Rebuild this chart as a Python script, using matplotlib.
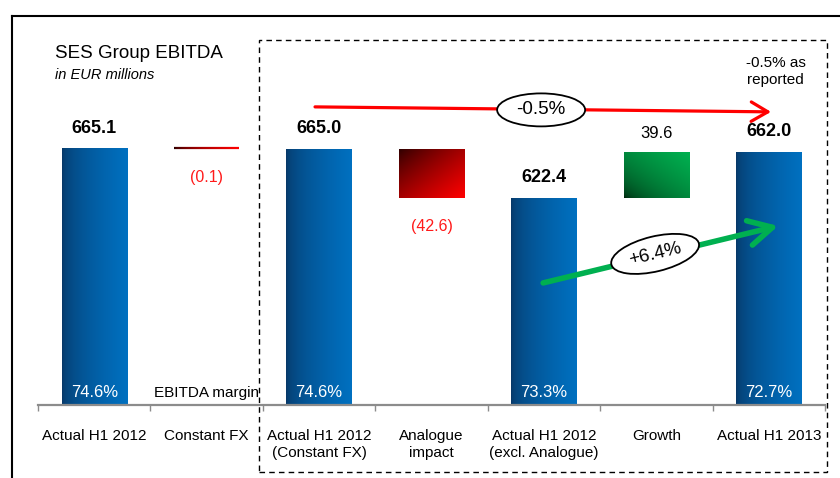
import numpy as np
import matplotlib
matplotlib.use('Agg')
import matplotlib.pyplot as plt
from matplotlib.patches import Ellipse, Rectangle, FancyArrowPatch, ArrowStyle
from matplotlib.lines import Line2D
from matplotlib.collections import LineCollection
from matplotlib.colors import to_rgb
import matplotlib.transforms as mtransforms

plt.rcParams['font.family'] = ['Liberation Sans', 'DejaVu Sans']

# ---------------- data ----------------
categories = ['Actual H1 2012', 'Constant FX', 'Actual H1 2012\n(Constant FX)',
              'Analogue\nimpact', 'Actual H1 2012\n(excl. Analogue)', 'Growth',
              'Actual H1 2013']
values = [665.1, -0.1, 665.0, -42.6, 622.4, 39.6, 662.0]
kinds = ['total', 'delta', 'total', 'delta', 'total', 'delta', 'total']
value_labels = ['665.1', '(0.1)', '665.0', '(42.6)', '622.4', '39.6', '662.0']
margin_labels = ['74.6%', 'EBITDA margin', '74.6%', '', '73.3%', '', '72.7%']
change_constant_fx = '-0.5%'
change_excl_analogue = '+6.4%'
reported_note = '-0.5% as\nreported'
title = 'SES Group EBITDA'
subtitle = 'in EUR millions'

# ---------------- figure ----------------
W, H, DPI = 840, 478, 100
fig = plt.figure(figsize=(W / DPI, H / DPI), dpi=DPI)
ax = fig.add_axes([38 / W, 1 - 405 / H, 787 / W, 405 / H])
Y0, Y1 = 444, 793
ax.set_xlim(-0.5, len(categories) - 0.5)
ax.set_ylim(Y0, Y1)

x = np.arange(len(categories))
bottoms, heights = [], []
running = 0.0
for v, k in zip(values, kinds):
    if k == 'total':
        bottoms.append(Y0)
        heights.append(v - Y0)
        running = v
    else:
        bottoms.append(running + min(v, 0))
        heights.append(abs(v))
        running += v

BW = 0.58
bars = ax.bar(x, heights, bottom=bottoms, width=BW, color='#0070c0',
              linewidth=0, zorder=2)


def grad_image(c0, c1, mode, gamma=1.0, n=64):
    xx, yy = np.meshgrid(np.linspace(0, 1, n), np.linspace(0, 1, n))
    if mode == 'h':
        t = xx
    elif mode == 'tl-br':   # dark top-left -> bright bottom-right
        t = (xx + (1 - yy)) / 2
    else:                   # dark bottom-left -> bright top-right
        t = (xx + yy) / 2
    t = np.clip(t, 0, 1) ** gamma
    c0, c1 = np.array(to_rgb(c0)), np.array(to_rgb(c1))
    return c0[None, None, :] * (1 - t[..., None]) + c1[None, None, :] * t[..., None]


blue_img = grad_image('#073868', '#0070c0', 'h', gamma=0.55)
red_img = grad_image('#2a0000', '#ff0000', 'tl-br', gamma=0.8)
green_img = grad_image('#001a08', '#00b050', 'bl-tr', gamma=0.45)

for i, (b, v, k) in enumerate(zip(bars, values, kinds)):
    x0, y0 = b.get_x(), b.get_y()
    x1, y1 = x0 + b.get_width(), y0 + b.get_height()
    if k == 'total':
        img = blue_img
    elif v < 0:
        img = red_img
    else:
        img = green_img
    # tiny bars are drawn as a gradient line
    pix_h = abs(ax.transData.transform((0, y1))[1] - ax.transData.transform((0, y0))[1])
    if pix_h < 2:
        b.set_visible(False)
        xs = np.linspace(x0, x1, 60)
        ym = (y0 + y1) / 2
        segs = [[(xs[j], ym), (xs[j + 1], ym)] for j in range(len(xs) - 1)]
        t = np.linspace(0, 1, len(segs)) ** 0.6
        c0, c1 = np.array(to_rgb('#2a0000')), np.array(to_rgb('#ff0000'))
        cols = [tuple(c0 * (1 - tt) + c1 * tt) for tt in t]
        ax.add_collection(LineCollection(segs, colors=cols, linewidths=1.6, zorder=3))
        continue
    im = ax.imshow(img, extent=(x0, x1, y0, y1), origin='lower', aspect='auto',
                   interpolation='bilinear', zorder=2.5)
    im.set_clip_path(b)

ax.set_xlim(-0.5, len(categories) - 0.5)
ax.set_ylim(Y0, Y1)

# value labels
for i, (b, v, k, lbl) in enumerate(zip(bars, values, kinds, value_labels)):
    top = b.get_y() + b.get_height()
    bot = b.get_y()
    if k == 'total':
        ax.annotate(lbl, (x[i], top), xytext=(0, 14.5), textcoords='offset points',
                    ha='center', va='center', fontsize=13, fontweight='bold', zorder=5)
    elif v >= 0:
        ax.annotate(lbl, (x[i], top), xytext=(0, 13), textcoords='offset points',
                    ha='center', va='center', fontsize=12, zorder=5)
    else:
        ax.annotate(lbl, (x[i], bot), xytext=(0, -20.5), textcoords='offset points',
                    ha='center', va='center', fontsize=11.5, color='#ff1a1a', zorder=5)

# margin labels
for i, (m, k) in enumerate(zip(margin_labels, kinds)):
    if not m:
        continue
    ax.annotate(m, (x[i], Y0), xytext=(0, 8.8), textcoords='offset points',
                ha='center', va='center', zorder=5,
                fontsize=12 if k == 'total' else 11,
                color='white' if k == 'total' else 'black')

# axis styling
for s in ['top', 'right', 'left']:
    ax.spines[s].set_visible(False)
ax.spines['bottom'].set_color('#8c8c8c')
ax.spines['bottom'].set_linewidth(1.6)
ax.set_yticks([])
ax.set_xticks(x)
ax.set_xticklabels(categories, fontsize=11, linespacing=1.3)
ax.tick_params(axis='x', which='major', length=0, pad=17)
ax.set_xticks(np.arange(-0.5, len(categories)), minor=True)
ax.tick_params(axis='x', which='minor', length=4, width=1, color='#8c8c8c')
ax.patch.set_visible(False)

# red arrow (-0.5%)
red_arrow = FancyArrowPatch((1.964, 700.9), (6.02, 696.6),
                            arrowstyle=ArrowStyle('->', head_length=12, head_width=7),
                            mutation_scale=1, lw=2.3, color='#ff0000',
                            shrinkA=0, shrinkB=0, zorder=6)
ax.add_patch(red_arrow)

# green arrow (+6.4%)
green_arrow = FancyArrowPatch((3.993, 549.2), (6.084, 598.3),
                              arrowstyle=ArrowStyle('->', head_length=17, head_width=9),
                              mutation_scale=1, lw=4.0, color='#00b050',
                              shrinkA=0, shrinkB=0, zorder=6,
                              capstyle='round', joinstyle='round')
ax.add_patch(green_arrow)


def ellipse_label(xd, yd, w_px, h_px, angle, text, fs):
    trans = fig.dpi_scale_trans + mtransforms.ScaledTranslation(xd, yd, ax.transData)
    e = Ellipse((0, 0), w_px / DPI, h_px / DPI, angle=angle, transform=trans,
                facecolor='white', edgecolor='black', lw=1.3, zorder=7, clip_on=False)
    ax.add_patch(e)
    ax.text(xd, yd, text, ha='center', va='center', rotation=angle,
            rotation_mode='anchor', fontsize=fs, zorder=8)


ellipse_label(3.975, 698.3, 88, 33, 0, change_constant_fx, 13.5)
ellipse_label(4.989, 574.2, 90, 35, 13.6, change_excl_analogue, 13.5)

# frames
fig.add_artist(Line2D([12 / W, 1.0], [1 - 15.7 / H] * 2, transform=fig.transFigure,
                      color='black', lw=1.5))
fig.add_artist(Line2D([12 / W] * 2, [1 - 15.7 / H, 0], transform=fig.transFigure,
                      color='black', lw=1.5))
fig.add_artist(Rectangle((259.4 / W, 1 - 471.7 / H), (827 - 259.4) / W, (471.7 - 40) / H,
                         transform=fig.transFigure, fill=False, ec='black', lw=1.0,
                         ls=(0, (4, 3))))

# titles
fig.text(55 / W, 1 - 53 / H, title, fontsize=13.5, va='center', ha='left')
fig.text(55 / W, 1 - 75 / H, subtitle, fontsize=10.5, style='italic', va='center', ha='left')
fig.text(775.6 / W, 1 - 71.5 / H, reported_note, fontsize=11, va='center', ha='center',
         linespacing=1.25)

fig.savefig('out.png', dpi=DPI)
